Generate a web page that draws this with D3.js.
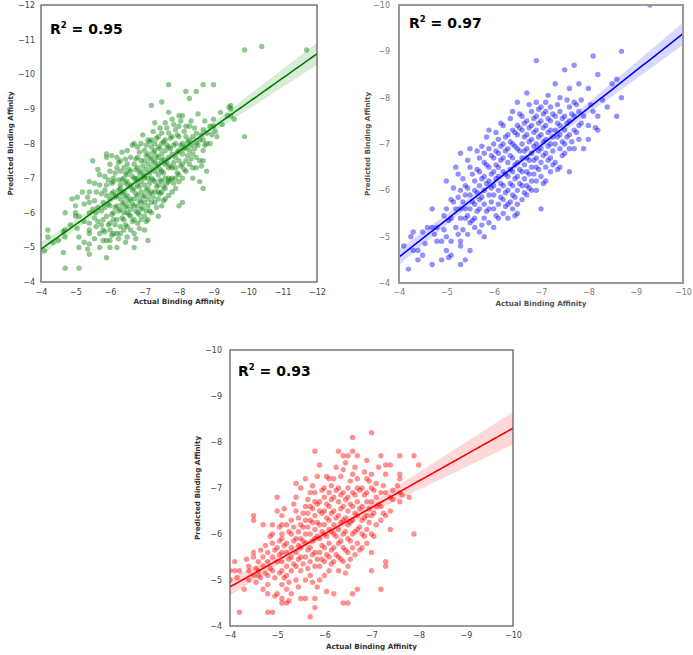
<!DOCTYPE html>
<html>
<head>
<meta charset="utf-8">
<script src="https://cdn.jsdelivr.net/npm/d3@7"></script>
<style>
  body { margin: 0; background: #fff; }
  text { font-family: "DejaVu Sans", sans-serif; }
</style>
</head>
<body>
<svg id="chart" width="693" height="655"></svg>
<script>
// each column: [actual binding affinity, [predicted values at that x]]
const greenColumns = [
  [-4.1, [-4.9]], [-4.2, [-5.5, -5.3]], [-4.5, [-5.2]],
  [-4.7, [-6.0, -5.5, -5.3, -4.4]], [-4.9, [-6.4]], [-5.0, [-6.2, -6.0, -5.9]],
  [-5.1, [-5.3, -5.0, -4.4, -5.9]], [-5.2, [-6.6]],
  [-5.4, [-6.9, -6.6, -6.3, -6.0, -5.7, -5.5, -5.4, -5.1, -4.8]], [-5.5, [-7.5, -6.1]],
  [-5.6, [-6.6, -6.0, -5.6]], [-5.7, [-7.1, -6.8, -5.4, -5.0]], [-5.8, [-6.3, -5.8, -5.5, -5.2]],
  [-5.9, [-7.7, -7.6, -6.8, -6.5, -5.9, -5.2, -4.7]],
  [-6.0, [-7.4, -7.2, -6.4, -6.2, -5.7, -5.5, -5.2, -5.0]],
  [-6.1, [-7.0, -6.9, -6.6, -6.0, -5.8, -5.4]],
  [-6.2, [-7.6, -7.3, -6.5, -6.2, -5.8, -5.4, -5.0]],
  [-6.3, [-7.5, -7.2, -6.8, -6.7, -6.4, -6.1, -5.6, -5.4]],
  [-6.4, [-7.3, -7.0, -6.6, -6.3, -6.0, -5.8, -5.5]],
  [-6.5, [-7.8, -7.4, -7.1, -6.9, -6.5, -6.2, -6.0, -5.6, -5.3]],
  [-6.6, [-7.6, -7.2, -6.8, -6.4, -6.1, -5.9, -5.5]],
  [-6.7, [-8.0, -7.4, -7.0, -6.7, -6.4, -6.2, -5.8, -5.4, -5.0]],
  [-6.8, [-7.9, -7.6, -7.3, -7.0, -6.8, -6.5, -6.2, -6.0, -5.7]],
  [-6.9, [-8.0, -7.5, -7.2, -6.9, -6.6, -6.3, -6.1, -5.8]],
  [-7.0, [-7.8, -7.5, -7.1, -7.0, -6.8, -6.5, -6.3, -5.9, -5.5]],
  [-7.1, [-8.1, -7.7, -7.4, -7.0, -6.7, -6.4, -6.2, -5.8, -5.2]],
  [-7.2, [-9.1, -8.1, -7.9, -7.6, -7.3, -7.0, -6.6, -6.3, -6.0]],
  [-7.3, [-8.6, -8.0, -7.8, -7.5, -7.2, -6.9, -6.6, -6.3]],
  [-7.4, [-8.2, -7.9, -7.6, -7.4, -7.1, -6.8, -6.6, -6.4, -5.9]],
  [-7.5, [-9.2, -8.3, -8.0, -7.7, -7.5, -7.2, -6.9, -6.6, -6.2]],
  [-7.6, [-8.6, -8.1, -7.8, -7.4, -7.0, -6.7, -6.4]],
  [-7.7, [-9.7, -8.9, -8.3, -7.9, -7.6, -7.3, -7.0, -6.9, -6.5]],
  [-7.8, [-8.7, -8.2, -7.7, -7.3, -7.0, -6.6]],
  [-7.9, [-8.4, -8.0, -7.6, -7.3, -7.0, -6.7]],
  [-8.0, [-8.8, -8.5, -8.2, -7.8, -7.5, -7.1, -6.9, -6.2]],
  [-8.1, [-8.8, -8.0, -7.7, -7.4, -7.0, -6.3]],
  [-8.2, [-9.5, -8.5, -8.2, -7.9, -7.5, -7.2]],
  [-8.3, [-9.3, -8.5, -8.1, -7.8, -7.4]],
  [-8.4, [-8.2, -7.7, -7.3, -7.0]],
  [-8.5, [-9.5, -8.3, -8.0, -7.6, -7.3]],
  [-8.6, [-8.1, -7.5, -6.9]],
  [-8.7, [-9.7, -8.4, -8.1, -7.8, -7.5, -6.7]],
  [-8.8, [-8.3, -8.0, -7.2]], [-8.9, [-8.5, -8.0]], [-9.0, [-9.7, -8.7, -8.5]],
  [-9.1, [-8.2]], [-9.2, [-8.9]], [-9.4, [-8.8]], [-9.5, [-9.1, -9.0, -8.8]],
  [-9.6, [-8.7]], [-9.9, [-10.7, -8.2]], [-10.4, [-10.8]], [-11.7, [-10.7]]
];
const greenExtra = [
  [-4.35, [-5.15]], [-4.65, [-5.45, -4.85]], [-4.85, [-5.65]], [-5.05, [-6.45, -5.55]],
  [-5.25, [-6.25, -5.75, -5.15]], [-5.35, [-6.45, -4.95]], [-5.55, [-6.85, -6.35, -5.85, -5.25]],
  [-5.65, [-7.25, -6.15, -5.75]], [-5.75, [-6.55, -6.05, -5.65]], [-5.85, [-7.05, -6.65, -6.15, -5.45]],
  [-5.95, [-6.95, -6.25, -5.65]], [-6.05, [-7.65, -6.85, -6.55, -5.95, -5.35]],
  [-6.15, [-7.15, -6.45, -6.15, -5.65]], [-6.25, [-7.45, -6.95, -6.65, -6.05, -5.25]],
  [-6.35, [-7.75, -6.95, -6.55, -6.25, -5.85]], [-6.45, [-7.55, -7.15, -6.85, -6.45, -6.15, -5.65, -5.15]],
  [-6.55, [-7.25, -6.75, -6.35, -5.95]], [-6.65, [-7.95, -7.05, -6.65, -6.25, -5.75]],
  [-6.75, [-7.55, -7.25, -6.95, -6.55, -6.05, -5.25]], [-6.85, [-7.75, -7.15, -6.75, -6.35, -5.95, -5.55]],
  [-6.95, [-8.25, -7.35, -7.05, -6.45, -6.15]], [-7.05, [-7.95, -7.65, -7.25, -6.65, -6.05, -5.75]],
  [-7.15, [-8.05, -7.55, -7.15, -6.85, -6.55, -6.05]], [-7.25, [-8.35, -7.75, -7.45, -6.95, -6.45]],
  [-7.35, [-8.15, -7.65, -7.35, -6.75, -6.15]], [-7.45, [-8.45, -7.85, -7.25, -6.95, -6.55]],
  [-7.55, [-8.05, -7.55, -7.15, -6.75, -6.35]], [-7.65, [-8.45, -7.95, -7.45, -6.85]],
  [-7.75, [-8.15, -7.85, -7.35, -6.95]], [-7.85, [-8.55, -7.95, -7.45, -6.85]],
  [-7.95, [-8.25, -7.75, -7.15]], [-8.05, [-8.65, -7.95, -7.35]], [-8.15, [-8.35, -7.85, -7.25]],
  [-8.25, [-8.05, -7.65]], [-8.35, [-8.65, -7.95, -7.55]], [-8.45, [-8.45, -7.85]],
  [-8.55, [-8.85, -7.95]], [-8.65, [-8.25, -7.35]], [-8.75, [-8.65, -7.95]],
  [-8.95, [-8.25]], [-9.05, [-8.35]], [-9.25, [-8.55]], [-9.45, [-9.05]]
];

const blueColumns = [
  [-4.1, [-4.8]], [-4.2, [-4.3]], [-4.3, [-5.1, -4.7]], [-4.4, [-4.5, -4.7]],
  [-4.5, [-5.1, -4.6]], [-4.6, [-5.2]], [-4.7, [-5.6, -5.2, -4.4]], [-4.8, [-5.2, -4.9]],
  [-4.9, [-4.9, -4.5]], [-5.0, [-6.2, -5.6, -5.0, -4.7]], [-5.1, [-5.8, -5.4, -4.6, -4.9]],
  [-5.2, [-6.5, -5.2, -5.6]], [-5.3, [-6.8, -6.0, -5.6, -5.4, -4.9, -4.8, -4.4]],
  [-5.4, [-6.1, -5.9, -5.6, -5.4, -4.5]], [-5.5, [-6.9, -6.5, -5.9, -5.6, -5.3, -4.7]],
  [-5.6, [-6.2, -6.0, -5.7, -5.4, -5.2]], [-5.7, [-6.7, -6.4, -6.1, -5.8, -5.6, -5.1]],
  [-5.8, [-6.8, -6.6, -6.3, -6.0, -5.7, -5.4, -5.0]],
  [-5.9, [-7.3, -6.9, -6.5, -6.2, -5.9, -5.6, -5.3]],
  [-6.0, [-7.0, -6.7, -6.4, -6.1, -5.9, -5.6, -5.2]],
  [-6.1, [-7.1, -6.8, -6.5, -6.3, -6.0, -5.7, -5.4]],
  [-6.2, [-7.4, -7.0, -6.7, -6.4, -6.1, -5.8, -5.5]],
  [-6.3, [-7.2, -6.9, -6.6, -6.3, -6.0, -5.7, -5.4]],
  [-6.4, [-7.7, -7.3, -7.0, -6.7, -6.4, -6.1, -5.9, -5.6]],
  [-6.5, [-7.9, -7.4, -7.2, -6.9, -6.6, -6.3, -6.0, -5.7, -5.5]],
  [-6.6, [-7.6, -7.3, -7.0, -6.7, -6.4, -6.1, -5.8]],
  [-6.7, [-8.1, -7.5, -7.2, -6.9, -6.7, -6.4, -6.1, -5.9]],
  [-6.8, [-7.7, -7.4, -7.1, -6.8, -6.5, -6.2, -6.0]],
  [-6.9, [-8.8, -7.9, -7.6, -7.3, -7.0, -6.7, -6.5, -6.2, -6.0]],
  [-7.0, [-7.8, -7.5, -7.2, -6.9, -6.6, -6.3, -5.6]],
  [-7.1, [-7.9, -7.7, -7.4, -7.1, -6.8, -6.5, -6.2]],
  [-7.2, [-7.8, -7.5, -7.3, -7.0, -6.7, -6.4]],
  [-7.3, [-8.3, -7.6, -7.3, -7.0, -6.6]],
  [-7.4, [-8.0, -7.7, -7.4, -7.2, -6.9, -6.5]],
  [-7.5, [-8.6, -7.6, -7.3, -7.0, -6.8]],
  [-7.6, [-8.2, -7.8, -7.5, -7.2, -6.9, -6.4]],
  [-7.7, [-8.7, -7.9, -7.6, -7.3, -6.9]],
  [-7.8, [-8.3, -7.7, -7.4, -7.1]], [-7.9, [-7.6, -6.9]], [-8.0, [-8.2, -7.4, -7.1]],
  [-8.1, [-8.9, -7.7]], [-8.2, [-8.5, -7.6, -7.3]], [-8.4, [-7.8]], [-8.5, [-8.3]],
  [-8.6, [-8.4, -7.6]], [-8.7, [-9.0, -8.0]], [-9.3, [-10.0]]
];
const blueExtra = [
  [-4.25, [-5.0]], [-4.55, [-4.85]], [-4.75, [-5.05]], [-4.95, [-5.45, -5.15]], [-5.05, [-5.35, -4.55]],
  [-5.15, [-6.05, -5.75]], [-5.25, [-6.35, -5.85, -5.05]], [-5.35, [-6.25, -5.75, -5.15]],
  [-5.45, [-6.65, -6.05, -5.45, -5.05]], [-5.55, [-6.35, -5.75, -5.35]],
  [-5.65, [-6.85, -6.45, -5.95, -5.55]], [-5.75, [-6.95, -6.25, -5.85, -5.25]],
  [-5.85, [-7.15, -6.55, -6.15, -5.55]], [-5.95, [-6.75, -6.35, -6.05, -5.75]],
  [-6.05, [-7.25, -6.85, -6.55, -6.25, -5.45]], [-6.15, [-7.45, -6.95, -6.65, -6.15, -5.85]],
  [-6.25, [-7.15, -6.85, -6.35, -5.95, -5.65]], [-6.35, [-7.55, -7.05, -6.75, -6.45, -6.15, -5.75]],
  [-6.45, [-7.25, -6.95, -6.55, -6.25, -5.85, -5.45]], [-6.55, [-7.65, -7.35, -6.85, -6.45, -6.15]],
  [-6.65, [-7.45, -7.15, -6.85, -6.55, -6.25, -5.95]], [-6.75, [-7.85, -7.35, -7.05, -6.65, -6.35, -6.05]],
  [-6.85, [-7.55, -7.25, -6.95, -6.65, -6.35]], [-6.95, [-7.75, -7.45, -7.15, -6.85, -6.45]],
  [-7.05, [-7.65, -7.35, -7.05, -6.75, -6.15]], [-7.15, [-8.05, -7.55, -7.25, -6.95, -6.65]],
  [-7.25, [-7.65, -7.15, -6.85, -6.55]], [-7.35, [-7.85, -7.45, -7.15, -6.45]],
  [-7.45, [-7.55, -7.05, -6.75]], [-7.55, [-7.95, -7.45, -7.15]], [-7.65, [-7.65, -7.05]],
  [-7.75, [-7.85, -7.25]], [-7.85, [-7.95, -7.45]], [-8.05, [-7.85]], [-8.15, [-7.35]], [-8.3, [-7.95]]
];

const redColumns = [
  [-4.0, [-5.2, -5.0]], [-4.1, [-5.4, -5.2]], [-4.2, [-5.2, -4.3]], [-4.3, [-4.8]],
  [-4.4, [-5.3, -5.2, -5.0]], [-4.5, [-6.4, -6.3, -5.6, -5.5, -5.1]],
  [-4.6, [-5.4, -5.2, -5.1]], [-4.7, [-6.2, -5.5, -5.3, -4.8]],
  [-4.8, [-5.6, -5.4, -5.1, -4.9, -4.7, -4.3]], [-4.9, [-6.2, -6.0, -5.8, -5.5, -5.2, -4.3]],
  [-5.0, [-6.8, -6.5, -5.7, -5.4, -4.7]],
  [-5.1, [-6.4, -6.2, -6.0, -5.9, -5.6, -5.4, -5.2, -4.9, -4.6, -4.5]],
  [-5.2, [-6.2, -5.8, -5.6, -5.3, -5.1, -4.8, -4.5]],
  [-5.3, [-6.3, -6.0, -5.7, -5.5, -5.2, -4.7]],
  [-5.4, [-7.1, -6.8, -6.5, -5.9, -5.6, -5.3, -5.0]],
  [-5.5, [-7.0, -6.2, -5.9, -5.7, -5.5, -5.2, -4.6]],
  [-5.6, [-7.2, -6.6, -6.3, -6.0, -5.8, -5.5, -5.0, -4.6]],
  [-5.7, [-6.9, -6.6, -6.3, -6.0, -5.7, -5.4, -5.1, -4.2]],
  [-5.8, [-7.8, -6.9, -6.7, -6.4, -6.1, -5.9, -5.6, -5.3, -4.6, -4.4]],
  [-5.9, [-7.5, -6.7, -6.5, -6.2, -5.9, -5.6, -5.3, -5.0]],
  [-6.0, [-7.0, -6.8, -6.5, -6.2, -6.0, -5.7, -5.4, -5.1]],
  [-6.1, [-7.2, -6.9, -6.6, -6.3, -6.1, -5.8, -5.5, -5.2]],
  [-6.2, [-7.2, -6.8, -6.5, -6.2, -6.0, -5.7, -5.4, -4.7]],
  [-6.3, [-7.8, -7.0, -6.7, -6.4, -6.1, -5.8, -5.5, -5.2]],
  [-6.4, [-7.7, -7.4, -6.9, -6.6, -6.3, -6.0, -5.7, -5.4, -4.5]],
  [-6.5, [-7.7, -7.0, -6.8, -6.5, -6.2, -5.9, -5.6, -5.3, -4.5]],
  [-6.6, [-8.1, -7.8, -7.3, -6.9, -6.6, -6.3, -6.0, -5.7, -4.7]],
  [-6.7, [-7.7, -7.2, -7.0, -6.7, -6.4, -6.1, -5.8, -4.8]],
  [-6.8, [-7.0, -6.6, -6.3, -6.0, -5.7]],
  [-6.9, [-7.6, -7.2, -6.9, -6.7, -6.4, -6.1, -5.8]],
  [-7.0, [-8.2, -7.3, -7.0, -6.7, -6.4, -6.0, -5.6, -5.2]],
  [-7.1, [-7.1, -6.8, -6.6, -6.2]], [-7.2, [-7.7, -6.9, -6.6, -6.3, -4.8]],
  [-7.3, [-7.5, -7.3, -6.9, -6.4, -5.4, -5.3]], [-7.4, [-7.5, -6.8, -6.5, -6.1]],
  [-7.6, [-7.7, -7.3, -7.2, -6.9, -6.7]], [-7.8, [-6.8]], [-7.9, [-7.7, -6.0]], [-8.0, [-7.5]]
];
const redExtra = [
  [-4.15, [-5.05]], [-4.35, [-5.45]], [-4.55, [-5.25, -4.95]], [-4.65, [-5.65, -5.05]],
  [-4.75, [-5.75, -5.15]], [-4.85, [-5.95, -5.25]], [-4.95, [-5.65, -5.05, -4.65]],
  [-5.05, [-6.15, -5.85, -5.55, -5.15]], [-5.15, [-6.55, -5.75, -5.05]],
  [-5.25, [-6.05, -5.45, -4.95, -4.55]], [-5.35, [-6.65, -6.15, -5.85, -5.35]],
  [-5.45, [-6.35, -6.05, -5.75, -5.45, -4.85]], [-5.55, [-6.45, -6.15, -5.85, -5.35]],
  [-5.65, [-6.75, -6.45, -6.15, -5.65, -5.25]], [-5.75, [-7.05, -6.55, -6.25, -5.85, -5.55, -4.95]],
  [-5.85, [-7.25, -6.65, -6.25, -5.95, -5.45, -4.85]], [-5.95, [-6.95, -6.45, -6.05, -5.75, -5.45]],
  [-6.05, [-7.25, -6.65, -6.35, -5.95, -5.55, -4.75]], [-6.15, [-7.05, -6.75, -6.45, -6.05, -5.65, -5.35]],
  [-6.25, [-7.45, -6.95, -6.35, -5.95, -5.55]], [-6.35, [-7.25, -6.85, -6.55, -6.25, -5.85, -5.45]],
  [-6.45, [-7.55, -6.75, -6.35, -6.05, -5.65, -5.15]], [-6.55, [-7.15, -6.65, -6.25, -5.85, -5.45]],
  [-6.65, [-7.45, -6.85, -6.45, -6.05, -5.55]], [-6.75, [-6.95, -6.55, -6.15, -5.65]],
  [-6.85, [-7.35, -6.85, -6.35, -5.95]], [-6.95, [-7.15, -6.55, -6.25]], [-7.05, [-6.95, -6.45, -5.95]],
  [-7.15, [-7.45, -6.65]], [-7.25, [-7.05, -6.45]], [-7.45, [-6.95, -6.75]], [-7.55, [-7.05]], [-7.65, [-6.85]]
];

// regression line end points
const greenFit = [[-4, -4.95], [-12, -10.59]];
const blueFit = [[-4, -4.56], [-10, -9.38]];
const redFit = [[-4, -4.85], [-10, -8.3]];

const r2Values = ["0.95", "0.97", "0.93"];
const ticksTo12 = [-4, -5, -6, -7, -8, -9, -10, -11, -12];
const ticksTo10 = [-4, -5, -6, -7, -8, -9, -10];

const flatten = (...sets) => sets.flat().flatMap(([x, ys]) => ys.map(y => [x, y]));

const panels = [
  { pts: flatten(greenColumns, greenExtra), fit: greenFit, color: "#008000", r2: r2Values[0], ticks: ticksTo12,
    x0: 41, x1: 317, y0: 5, y1: 282, frame: "#555", frameW: 1.2, tickCol: "#444", labCol: "#333",
    padY: 6, padX: 7, ylabX: 10, xlabY: 304, r2x: 50, r2y: 34 },
  { pts: flatten(blueColumns, blueExtra), fit: blueFit, color: "#0000ff", r2: r2Values[1], ticks: ticksTo10,
    x0: 399, x1: 683, y0: 5, y1: 283, frame: "#999", frameW: 2, tickCol: "#777", labCol: "#555",
    padY: 9, padX: 6, ylabX: 367, xlabY: 306, r2x: 409, r2y: 28 },
  { pts: flatten(redColumns, redExtra), fit: redFit, color: "#ff0000", r2: r2Values[2], ticks: ticksTo10,
    x0: 230, x1: 513, y0: 350, y1: 626, frame: "#555", frameW: 1.2, tickCol: "#444", labCol: "#333",
    padY: 8, padX: 6, ylabX: 197, xlabY: 649, r2x: 238, r2y: 376 }
];

const svg = d3.select("#chart");

panels.forEach((p, i) => {
  const lo = p.ticks[0], hi = p.ticks[p.ticks.length - 1];
  const x = d3.scaleLinear().domain([lo, hi]).range([p.x0, p.x1]);
  const y = d3.scaleLinear().domain([lo, hi]).range([p.y1, p.y0]);
  const g = svg.append("g");

  g.append("clipPath").attr("id", "clip" + i)
    .append("rect").attr("x", p.x0).attr("y", p.y0)
    .attr("width", p.x1 - p.x0).attr("height", p.y1 - p.y0);

  // fit line from read end points, band from residuals (95% CI)
  const [[fx0, fy0], [fx1, fy1]] = p.fit;
  const slope = (fy1 - fy0) / (fx1 - fx0);
  const fitAt = v => fy0 + slope * (v - fx0);
  const n = p.pts.length;
  const xm = d3.mean(p.pts, d => d[0]);
  const sxx = d3.sum(p.pts, d => (d[0] - xm) ** 2);
  const s = Math.sqrt(d3.sum(p.pts, d => (d[1] - fitAt(d[0])) ** 2) / (n - 2));
  const half = v => 1.96 * s * Math.sqrt(1 / n + (v - xm) ** 2 / sxx);
  const grid = d3.range(0, 101).map(k => lo + (hi - lo) * k / 100);

  const plot = g.append("g").attr("clip-path", `url(#clip${i})`);

  plot.selectAll("circle").data(p.pts).join("circle")
    .attr("cx", d => x(d[0])).attr("cy", d => y(d[1]))
    .attr("r", 2.7).attr("fill", p.color).attr("fill-opacity", 0.43);

  plot.append("path").datum(grid)
    .attr("d", d3.area().x(v => x(v)).y0(v => y(fitAt(v) - half(v))).y1(v => y(fitAt(v) + half(v))))
    .attr("fill", p.color).attr("fill-opacity", 0.15);

  plot.append("path").datum(grid)
    .attr("d", d3.line().x(v => x(v)).y(v => y(fitAt(v))))
    .attr("fill", "none").attr("stroke", p.color).attr("stroke-width", 1.6);

  // axes
  const fmt = d3.format("d");
  const ax = g.append("g").attr("transform", `translate(0,${p.y1})`)
    .call(d3.axisBottom(x).tickValues(p.ticks).tickFormat(fmt).tickSize(0).tickPadding(p.padX));
  const ay = g.append("g").attr("transform", `translate(${p.x0},0)`)
    .call(d3.axisLeft(y).tickValues(p.ticks).tickFormat(fmt).tickSize(0).tickPadding(p.padY));
  [ax, ay].forEach(a => {
    a.select(".domain").remove();
    a.selectAll("text").attr("font-size", 8).attr("fill", p.tickCol)
      .attr("font-family", "DejaVu Sans, sans-serif");
  });

  g.append("rect").attr("x", p.x0).attr("y", p.y0)
    .attr("width", p.x1 - p.x0).attr("height", p.y1 - p.y0)
    .attr("fill", "none").attr("stroke", p.frame).attr("stroke-width", p.frameW);

  g.append("text").text("Actual Binding Affinity")
    .attr("x", (p.x0 + p.x1) / 2).attr("y", p.xlabY)
    .attr("text-anchor", "middle").attr("font-size", 7.2).attr("font-weight", "bold").attr("fill", p.labCol);

  g.append("text").text("Predicted Binding Affinity")
    .attr("transform", `translate(${p.ylabX},${(p.y0 + p.y1) / 2}) rotate(-90)`)
    .attr("dominant-baseline", "central")
    .attr("text-anchor", "middle").attr("font-size", 7.2).attr("font-weight", "bold").attr("fill", p.labCol);

  const r2 = g.append("text").attr("x", p.r2x).attr("y", p.r2y)
    .attr("font-family", "Liberation Sans, Arial, sans-serif")
    .attr("font-size", 14).attr("font-weight", "bold").attr("fill", "#000");
  r2.append("tspan").text("R");
  r2.append("tspan").text("2").attr("font-size", 8.5).attr("dy", -6);
  r2.append("tspan").text(" = " + p.r2).attr("dy", 6);
});
</script>
</body>
</html>
